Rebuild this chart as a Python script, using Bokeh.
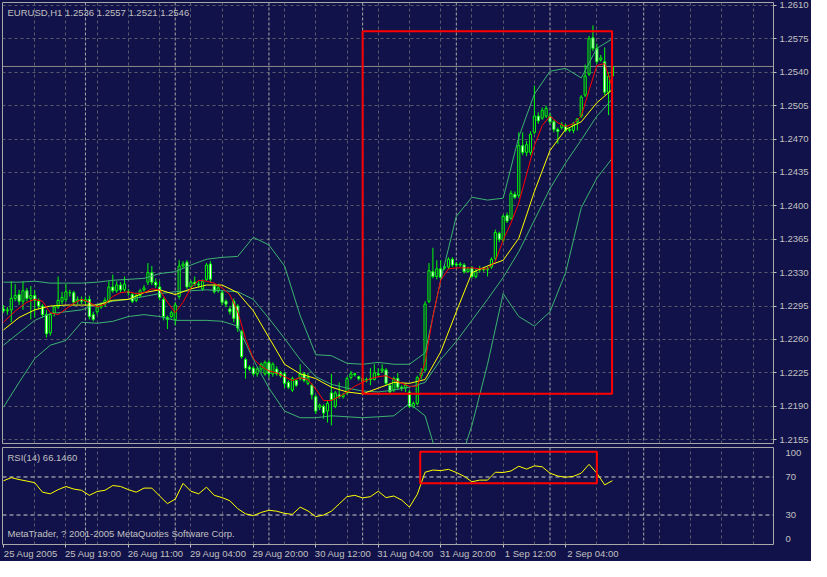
from bokeh.plotting import figure
from bokeh.layouts import column
from bokeh.models import (Range1d, FixedTicker, Span, Label, BoxAnnotation,
                          NumeralTickFormatter, ColumnDataSource, LinearAxis)
from bokeh.embed import file_html
from bokeh.resources import INLINE

# ---------------- data (EURUSD H1, bar 0 = 25 Aug 2005 03:00) ----------------
bar_open = [1.2292, 1.2290, 1.2291, 1.2303, 1.2307, 1.2300, 1.2311, 1.2303, 1.2306, 1.2300,
            1.2295, 1.2286, 1.2267, 1.2288, 1.2294, 1.2300, 1.2302, 1.2309, 1.2309, 1.2300,
            1.2302, 1.2300, 1.2302, 1.2286, 1.2289, 1.2294, 1.2297, 1.2300, 1.2315, 1.2311,
            1.2317, 1.2312, 1.2310, 1.2307, 1.2301, 1.2306, 1.2312, 1.2320, 1.2330, 1.2320,
            1.2315, 1.2302, 1.2283, 1.2284, 1.2281, 1.2305, 1.2337, 1.2341, 1.2315, 1.2320,
            1.2318, 1.2313, 1.2323, 1.2339, 1.2316, 1.2311, 1.2309, 1.2300, 1.2292, 1.2300,
            1.2295, 1.2268, 1.2239, 1.2231, 1.2230, 1.2224, 1.2229, 1.2224, 1.2236, 1.2224,
            1.2229, 1.2225, 1.2224, 1.2215, 1.2207, 1.2217, 1.2219, 1.2224, 1.2214, 1.2212,
            1.2200, 1.2189, 1.2190, 1.2185, 1.2204, 1.2190, 1.2202, 1.2200, 1.2204, 1.2220,
            1.2224, 1.2221, 1.2219, 1.2217, 1.2219, 1.2218, 1.2224, 1.2227, 1.2228, 1.2212,
            1.2207, 1.2219, 1.2210, 1.2209, 1.2205, 1.2190, 1.2193, 1.2222, 1.2228, 1.2300,
            1.2331, 1.2326, 1.2334, 1.2335, 1.2336, 1.2344, 1.2339, 1.2338, 1.2338, 1.2331,
            1.2335, 1.2326, 1.2333, 1.2334, 1.2333, 1.2336, 1.2345, 1.2371, 1.2364, 1.2390,
            1.2387, 1.2412, 1.2411, 1.2463, 1.2456, 1.2456, 1.2477, 1.2494, 1.2492, 1.2494,
            1.2494, 1.2488, 1.2480, 1.2482, 1.2484, 1.2479, 1.2479, 1.2488, 1.2494, 1.2516,
            1.2538, 1.2576, 1.2565, 1.2553, 1.2551, 1.2519, 1.2536]
bar_high = [1.2296, 1.2294, 1.2321, 1.2318, 1.2312, 1.2321, 1.2314, 1.2316, 1.2312, 1.2303,
            1.2297, 1.2291, 1.2288, 1.2296, 1.2326, 1.2310, 1.2318, 1.2312, 1.2311, 1.2305,
            1.2305, 1.2305, 1.2306, 1.2289, 1.2297, 1.2299, 1.2304, 1.2321, 1.2328, 1.2321,
            1.2320, 1.2326, 1.2313, 1.2309, 1.2309, 1.2313, 1.2317, 1.2340, 1.2337, 1.2324,
            1.2321, 1.2304, 1.2285, 1.2290, 1.2299, 1.2343, 1.2342, 1.2343, 1.2322, 1.2326,
            1.2321, 1.2323, 1.2340, 1.2342, 1.2318, 1.2318, 1.2312, 1.2302, 1.2295, 1.2303,
            1.2297, 1.2270, 1.2241, 1.2233, 1.2232, 1.2231, 1.2236, 1.2238, 1.2238, 1.2236,
            1.2232, 1.2227, 1.2226, 1.2217, 1.2221, 1.2219, 1.2234, 1.2226, 1.2225, 1.2214,
            1.2202, 1.2193, 1.2192, 1.2196, 1.2224, 1.2206, 1.2215, 1.2204, 1.2221, 1.2227,
            1.2225, 1.2222, 1.2221, 1.2220, 1.2230, 1.2234, 1.2230, 1.2234, 1.2230, 1.2214,
            1.2221, 1.2225, 1.2212, 1.2214, 1.2207, 1.2195, 1.2222, 1.2230, 1.2300, 1.2340,
            1.2356, 1.2343, 1.2343, 1.2339, 1.2346, 1.2346, 1.2341, 1.2341, 1.2340, 1.2336,
            1.2337, 1.2334, 1.2337, 1.2336, 1.2336, 1.2346, 1.2375, 1.2373, 1.2391, 1.2393,
            1.2416, 1.2415, 1.2477, 1.2477, 1.2468, 1.2478, 1.2526, 1.2498, 1.2503, 1.2505,
            1.2497, 1.2490, 1.2482, 1.2488, 1.2486, 1.2482, 1.2488, 1.2492, 1.2516, 1.2548,
            1.2578, 1.2589, 1.2570, 1.2558, 1.2566, 1.2540, 1.2557]
bar_low = [1.2288, 1.2286, 1.2278, 1.2300, 1.2296, 1.2291, 1.2300, 1.2281, 1.2283, 1.2292,
           1.2283, 1.2262, 1.2264, 1.2284, 1.2292, 1.2297, 1.2299, 1.2305, 1.2296, 1.2297,
           1.2297, 1.2297, 1.2281, 1.2279, 1.2286, 1.2292, 1.2294, 1.2298, 1.2309, 1.2309,
           1.2309, 1.2310, 1.2306, 1.2298, 1.2299, 1.2304, 1.2310, 1.2317, 1.2317, 1.2314,
           1.2301, 1.2280, 1.2271, 1.2282, 1.2275, 1.2302, 1.2335, 1.2313, 1.2312, 1.2316,
           1.2314, 1.2311, 1.2321, 1.2320, 1.2308, 1.2309, 1.2296, 1.2294, 1.2286, 1.2278,
           1.2268, 1.2240, 1.2219, 1.2227, 1.2222, 1.2221, 1.2226, 1.2222, 1.2220, 1.2221,
           1.2222, 1.2220, 1.2209, 1.2208, 1.2205, 1.2210, 1.2217, 1.2215, 1.2212, 1.2197,
           1.2182, 1.2186, 1.2177, 1.2173, 1.2170, 1.2188, 1.2198, 1.2198, 1.2202, 1.2218,
           1.2221, 1.2217, 1.2214, 1.2215, 1.2212, 1.2217, 1.2221, 1.2225, 1.2212, 1.2203,
           1.2205, 1.2208, 1.2206, 1.2205, 1.2188, 1.2188, 1.2191, 1.2218, 1.2226, 1.2298,
           1.2324, 1.2323, 1.2323, 1.2333, 1.2334, 1.2336, 1.2336, 1.2336, 1.2329, 1.2330,
           1.2324, 1.2324, 1.2330, 1.2331, 1.2326, 1.2334, 1.2343, 1.2362, 1.2362, 1.2382,
           1.2385, 1.2407, 1.2408, 1.2453, 1.2452, 1.2453, 1.2475, 1.2486, 1.2490, 1.2492,
           1.2486, 1.2477, 1.2465, 1.2480, 1.2477, 1.2477, 1.2476, 1.2479, 1.2492, 1.2514,
           1.2536, 1.2562, 1.2549, 1.2551, 1.2516, 1.2495, 1.2521]
bar_close = [1.2290, 1.2291, 1.2303, 1.2306, 1.2300, 1.2311, 1.2303, 1.2306, 1.2301, 1.2295,
             1.2286, 1.2266, 1.2286, 1.2294, 1.2301, 1.2304, 1.2310, 1.2309, 1.2299, 1.2302,
             1.2300, 1.2302, 1.2284, 1.2281, 1.2294, 1.2296, 1.2301, 1.2315, 1.2311, 1.2317,
             1.2312, 1.2318, 1.2309, 1.2300, 1.2306, 1.2311, 1.2314, 1.2330, 1.2320, 1.2317,
             1.2304, 1.2284, 1.2281, 1.2288, 1.2296, 1.2337, 1.2339, 1.2315, 1.2320, 1.2318,
             1.2317, 1.2321, 1.2338, 1.2323, 1.2310, 1.2314, 1.2299, 1.2297, 1.2289, 1.2282,
             1.2272, 1.2242, 1.2230, 1.2229, 1.2224, 1.2229, 1.2234, 1.2236, 1.2224, 1.2234,
             1.2224, 1.2222, 1.2214, 1.2210, 1.2219, 1.2212, 1.2224, 1.2217, 1.2220, 1.2202,
             1.2185, 1.2191, 1.2183, 1.2193, 1.2197, 1.2204, 1.2200, 1.2202, 1.2219, 1.2224,
             1.2223, 1.2219, 1.2216, 1.2218, 1.2218, 1.2225, 1.2223, 1.2229, 1.2214, 1.2205,
             1.2219, 1.2210, 1.2209, 1.2212, 1.2190, 1.2193, 1.2220, 1.2225, 1.2297, 1.2332,
             1.2326, 1.2334, 1.2325, 1.2336, 1.2344, 1.2338, 1.2338, 1.2339, 1.2331, 1.2334,
             1.2326, 1.2331, 1.2334, 1.2333, 1.2334, 1.2344, 1.2372, 1.2365, 1.2389, 1.2384,
             1.2413, 1.2409, 1.2463, 1.2456, 1.2464, 1.2475, 1.2494, 1.2489, 1.2500, 1.2502,
             1.2488, 1.2480, 1.2478, 1.2485, 1.2479, 1.2480, 1.2486, 1.2491, 1.2514, 1.2536,
             1.2575, 1.2565, 1.2551, 1.2555, 1.2519, 1.2536, 1.2546]

band_bars = list(range(0, 157, 4))
bb_upper = [1.2320, 1.2320, 1.2321, 1.2319, 1.2319, 1.2319, 1.2320, 1.2322, 1.2323, 1.2324,
            1.2329, 1.2331, 1.2338, 1.2344, 1.2346, 1.2347, 1.2367, 1.2359, 1.2337, 1.2285,
            1.2244, 1.2243, 1.2235, 1.2234, 1.2236, 1.2234, 1.2234, 1.2246, 1.2322, 1.2389,
            1.2409, 1.2406, 1.2408, 1.2472, 1.2517, 1.2541, 1.2544, 1.2534, 1.2565, 1.2575]
bb_middle = [1.2254, 1.2267, 1.2280, 1.2287, 1.2289, 1.2291, 1.2297, 1.2300, 1.2302, 1.2305,
             1.2308, 1.2310, 1.2311, 1.2312, 1.2311, 1.2310, 1.2302, 1.2282, 1.2261, 1.2239,
             1.2221, 1.2213, 1.2209, 1.2206, 1.2205, 1.2207, 1.2210, 1.2215, 1.2239, 1.2258,
             1.2280, 1.2302, 1.2325, 1.2352, 1.2385, 1.2418, 1.2445, 1.2469, 1.2494, 1.2512]
bb_lower = [1.2189, 1.2215, 1.2240, 1.2254, 1.2259, 1.2278, 1.2277, 1.2279, 1.2284, 1.2286,
            1.2284, 1.2280, 1.2280, 1.2280, 1.2279, 1.2274, 1.2239, 1.2209, 1.2185, 1.2178,
            1.2178, 1.2180, 1.2179, 1.2178, 1.2179, 1.2180, 1.2193, 1.2180, 1.2125, 1.2120,
            1.2170, 1.2234, 1.2308, 1.2284, 1.2274, 1.2289, 1.2330, 1.2398, 1.2429, 1.2450]
ma_slow = [1.2270, 1.2283, 1.2291, 1.2295, 1.2296, 1.2296, 1.2296, 1.2301, 1.2302, 1.2309,
           1.2312, 1.2307, 1.2313, 1.2317, 1.2317, 1.2309, 1.2290, 1.2262, 1.2234, 1.2224,
           1.2219, 1.2210, 1.2205, 1.2203, 1.2209, 1.2215, 1.2214, 1.2218, 1.2247, 1.2289,
           1.2330, 1.2337, 1.2343, 1.2366, 1.2415, 1.2458, 1.2480, 1.2488, 1.2508, 1.2522]

fast_bars = list(range(0, 157, 2))
ma_fast = [1.2278, 1.2286, 1.2293, 1.2299, 1.2302, 1.2300, 1.2288, 1.2286, 1.2292, 1.2298,
           1.2302, 1.2299, 1.2294, 1.2297, 1.2305, 1.2309, 1.2310, 1.2308, 1.2309, 1.2313,
           1.2312, 1.2299, 1.2288, 1.2299, 1.2314, 1.2322, 1.2321, 1.2319, 1.2314, 1.2307,
           1.2289, 1.2261, 1.2240, 1.2232, 1.2227, 1.2225, 1.2221, 1.2217, 1.2220, 1.2218,
           1.2208, 1.2196, 1.2196, 1.2200, 1.2205, 1.2211, 1.2215, 1.2219, 1.2221, 1.2222,
           1.2218, 1.2214, 1.2211, 1.2211, 1.2236, 1.2284, 1.2322, 1.2334, 1.2335, 1.2335,
           1.2335, 1.2334, 1.2334, 1.2342, 1.2364, 1.2382, 1.2403, 1.2433, 1.2463, 1.2484,
           1.2494, 1.2487, 1.2483, 1.2486, 1.2494, 1.2521, 1.2547, 1.2549, 1.2524]

rsi_bars = list(range(0, 157, 2))
rsi_values = [66.0, 69.3, 67.3, 65.7, 64.0, 54.0, 52.3, 56.7, 60.0, 57.3,
              56.0, 50.7, 54.7, 56.0, 61.0, 60.0, 56.7, 54.0, 58.3, 58.3,
              50.0, 42.0, 46.7, 63.3, 55.0, 52.3, 59.3, 50.7, 48.3, 45.0,
              36.7, 31.3, 29.3, 32.7, 35.0, 34.0, 31.7, 30.7, 38.3, 34.3,
              28.3, 30.0, 34.0, 41.7, 49.3, 50.7, 48.0, 49.3, 55.0, 48.3,
              50.0, 45.7, 38.3, 51.7, 75.0, 77.3, 76.7, 78.0, 74.7, 70.7,
              65.0, 66.7, 66.7, 75.0, 74.7, 76.3, 81.3, 78.3, 81.7, 80.7,
              74.0, 71.0, 69.7, 70.7, 74.0, 83.3, 74.0, 61.7, 66.1]
rsi_levels = [70, 30]

price_ticks = [1.2155, 1.2190, 1.2225, 1.2260, 1.2295, 1.2330, 1.2365,
               1.2400, 1.2435, 1.2470, 1.2505, 1.2540, 1.2575, 1.2610]
time_tick_bars = [0, 16, 32, 48, 64, 80, 96, 112, 128, 144]
time_tick_labels = ["25 Aug 2005", "25 Aug 19:00", "26 Aug 11:00", "29 Aug 04:00",
                    "29 Aug 20:00", "30 Aug 12:00", "31 Aug 04:00", "31 Aug 20:00",
                    "1 Sep 12:00", "2 Sep 04:00"]
grid_bars = list(range(8, 197, 8))
day_start_bars = [21, 44, 68, 92, 116, 140, 164]
rsi_tick_pos = [95, 70, 30, 5]
rsi_tick_text = ["100", "70", "30", "0"]

main_box_bars = [92, 155.9]
main_box_prices = [1.2203, 1.2583]
rsi_box_bars = [106.75, 152]
rsi_box_values = [63.3, 96.5]

title_text = "EURUSD,H1  1.2536 1.2557 1.2521 1.2546"
rsi_title = "RSI(14) 66.1460"
copyright_text = "MetaTrader, ? 2001-2005 MetaQuotes Software Corp."

# ---------------- style ----------------
BG = "#12124a"
FRAME = "#a8a8a8"
TXT = "#c0c0c0"
GRID = "#5a5a6c"
SEP = "#a8a8a8"
FONT = "Liberation Sans"
FS = "9.5px"
LIME = "#00ff00"
BAND = "#3cb371"
LABEL_SHIFT = 7   # MetaTrader writes time labels to the right of their tick

W = 811
x_range = Range1d(-0.25, 197.25)

# ---------------- main price panel ----------------
p = figure(width=W, height=447, x_range=x_range, y_range=Range1d(1.2151, 1.2613),
           output_backend="svg", toolbar_location=None,
           x_axis_location=None, y_axis_location="right",
           min_border_left=2, min_border_top=2, min_border_bottom=4, min_border_right=36,
           background_fill_color=BG, border_fill_color=BG,
           outline_line_color=FRAME, outline_line_width=1)

p.yaxis.ticker = FixedTicker(ticks=price_ticks)
p.yaxis.formatter = NumeralTickFormatter(format="0.0000")
p.yaxis.axis_line_color = None
p.yaxis.major_tick_line_color = TXT
p.yaxis.major_tick_out = 3
p.yaxis.major_tick_in = 0
p.yaxis.minor_tick_line_color = None
p.yaxis.major_label_text_color = TXT
p.yaxis.major_label_text_font = FONT
p.yaxis.major_label_text_font_size = FS
p.yaxis.major_label_standoff = 3

p.ygrid.ticker = FixedTicker(ticks=price_ticks)
p.xgrid.ticker = FixedTicker(ticks=grid_bars)
for g in (p.xgrid, p.ygrid):
    g.grid_line_color = GRID
    g.grid_line_dash = "3 3"
    g.grid_line_width = 1

for b in day_start_bars:
    p.add_layout(Span(location=b, dimension="height", line_color=SEP,
                      line_dash="3 2", line_width=1, level="underlay"))

# bid line
p.add_layout(Span(location=bar_close[-1], dimension="width", line_color="#8c8c8c",
                  line_width=1, level="underlay"))

idx = list(range(len(bar_close)))
src = ColumnDataSource(dict(
    x=idx, high=bar_high, low=bar_low,
    top=[max(o, c) for o, c in zip(bar_open, bar_close)],
    bottom=[min(o, c) for o, c in zip(bar_open, bar_close)],
    fill=["#ffffff" if c < o else BG for o, c in zip(bar_open, bar_close)],
))
p.segment(x0="x", y0="low", x1="x", y1="high", source=src, line_color=LIME, line_width=1)
p.vbar(x="x", width=0.55, top="top", bottom="bottom", source=src,
       fill_color="fill", line_color=LIME, line_width=1)

p.line(band_bars, bb_upper, line_color=BAND, line_width=1)
p.line(band_bars, bb_middle, line_color=BAND, line_width=1)
p.line(band_bars, bb_lower, line_color=BAND, line_width=1)
p.line(band_bars, ma_slow, line_color="#ffff00", line_width=1)
p.line(fast_bars, ma_fast, line_color="#ff0000", line_width=1)

p.add_layout(BoxAnnotation(left=main_box_bars[0], right=main_box_bars[1],
                           bottom=main_box_prices[0], top=main_box_prices[1],
                           fill_alpha=0, line_color="#ff0000", line_alpha=1, line_width=2))

p.add_layout(Label(x=x_range.start, y=1.2613, x_offset=5, y_offset=-4, text=title_text,
                   text_color=TXT, text_font=FONT, text_font_size=FS,
                   text_baseline="top", text_align="left"))
p.add_layout(Label(x=x_range.end, y=bar_close[-1], x_offset=2, text="%.4f" % bar_close[-1],
                   text_color=BG, text_font=FONT, text_font_size=FS,
                   text_baseline="middle", text_align="left",
                   background_fill_color="#b4b4b4"))

# ---------------- RSI panel ----------------
r = figure(width=W, height=114, x_range=x_range, y_range=Range1d(-1, 101),
           output_backend="svg", toolbar_location=None, y_axis_location="right",
           min_border_left=2, min_border_top=0, min_border_bottom=0, min_border_right=36,
           background_fill_color=BG, border_fill_color=BG,
           outline_line_color=FRAME, outline_line_width=1)

r.yaxis.ticker = FixedTicker(ticks=rsi_tick_pos)
r.yaxis.major_label_overrides = dict(zip(rsi_tick_pos, rsi_tick_text))
r.yaxis.axis_line_color = None
r.yaxis.major_tick_line_color = None
r.yaxis.minor_tick_line_color = None
r.yaxis.major_label_text_color = TXT
r.yaxis.major_label_text_font = FONT
r.yaxis.major_label_text_font_size = FS
r.yaxis.major_label_standoff = 6

# tick marks only (closest to the frame)
tick_axis = r.xaxis[0]
tick_axis.ticker = FixedTicker(ticks=time_tick_bars)
tick_axis.major_label_overrides = {b: "" for b in time_tick_bars}
tick_axis.axis_line_color = None
tick_axis.major_tick_line_color = TXT
tick_axis.major_tick_out = 3
tick_axis.major_tick_in = 0
tick_axis.minor_tick_line_color = None
tick_axis.major_label_standoff = 0
tick_axis.major_label_text_font_size = "1px"

# time labels written to the right of each tick
label_pos = [b + LABEL_SHIFT for b in time_tick_bars]
label_axis = LinearAxis(ticker=FixedTicker(ticks=label_pos),
                        major_label_overrides=dict(zip(label_pos, time_tick_labels)))
label_axis.axis_line_color = None
label_axis.major_tick_line_color = None
label_axis.major_tick_out = 0
label_axis.major_tick_in = 0
label_axis.minor_tick_line_color = None
label_axis.major_label_text_color = TXT
label_axis.major_label_text_font = FONT
label_axis.major_label_text_font_size = FS
label_axis.major_label_standoff = 0
r.add_layout(label_axis, "below")

r.xgrid.ticker = FixedTicker(ticks=grid_bars)
r.xgrid.grid_line_color = GRID
r.xgrid.grid_line_dash = "3 3"
r.ygrid.visible = False

for b in day_start_bars:
    r.add_layout(Span(location=b, dimension="height", line_color=SEP,
                      line_dash="3 2", line_width=1, level="underlay"))
for lv in rsi_levels:
    r.add_layout(Span(location=lv, dimension="width", line_color="#d0d0d0",
                      line_dash="4 3", line_width=1, level="underlay"))

r.line(rsi_bars, rsi_values, line_color="#ffff00", line_width=1)

r.add_layout(BoxAnnotation(left=rsi_box_bars[0], right=rsi_box_bars[1],
                           bottom=rsi_box_values[0], top=rsi_box_values[1],
                           fill_alpha=0, line_color="#ff0000", line_alpha=1, line_width=2))

r.add_layout(Label(x=x_range.start, y=101, x_offset=5, y_offset=-4, text=rsi_title,
                   text_color=TXT, text_font=FONT, text_font_size=FS,
                   text_baseline="top", text_align="left"))
r.add_layout(Label(x=x_range.start, y=-1, x_offset=5, y_offset=6, text=copyright_text,
                   text_color=TXT, text_font=FONT, text_font_size=FS,
                   text_baseline="bottom", text_align="left"))

layout = column(p, r, spacing=0)
layout.styles = {"background-color": BG}
html = file_html(layout, INLINE)
open("out.html", "w").write(html)
